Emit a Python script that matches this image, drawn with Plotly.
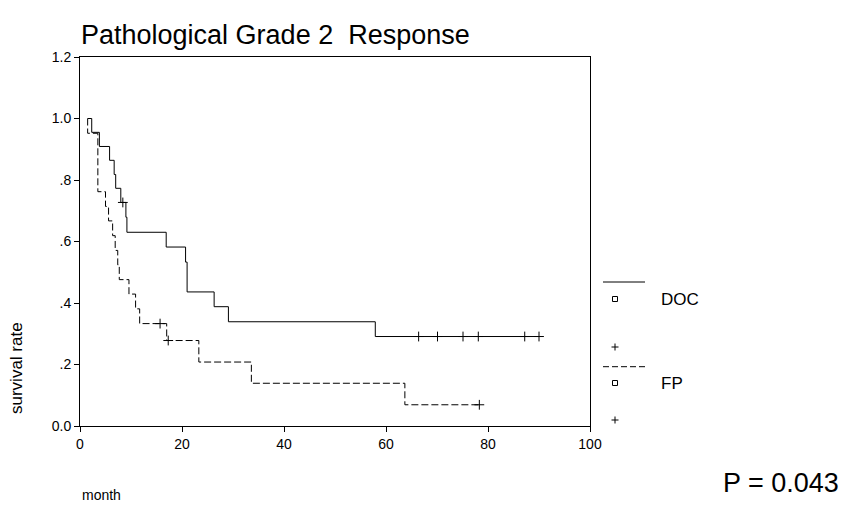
import plotly.graph_objects as go

# ---- data (Kaplan-Meier steps) ----
doc_t = [1.5, 2.3, 3.8, 5.8, 6.7, 7.0, 8.0, 9.0, 9.2, 16.9, 20.7, 21.0, 26.3, 29.1, 57.9, 90.0]
doc_s = [1.0, 0.955, 0.909, 0.864, 0.818, 0.773, 0.727, 0.679, 0.630, 0.582, 0.533, 0.436, 0.388, 0.339, 0.291, 0.291]
doc_cens = [8.4, 66.4, 70.1, 75.1, 78.1, 87.2, 90.0]

fp_t = [1.5, 1.5, 3.5, 5.0, 5.6, 6.4, 6.9, 7.4, 7.7, 9.6, 10.9, 11.7, 17.0, 23.3, 33.6, 63.7, 78.3]
fp_s = [1.0, 0.952, 0.762, 0.714, 0.667, 0.619, 0.571, 0.524, 0.476, 0.429, 0.381, 0.333, 0.278, 0.208, 0.139, 0.069, 0.069]
fp_cens = [15.7, 17.3, 78.3]

x_ticks = [0, 20, 40, 60, 80, 100]
y_ticks = [0.0, 0.2, 0.4, 0.6, 0.8, 1.0, 1.2]
y_ticktext = ["0.0", ".2", ".4", ".6", ".8", "1.0", "1.2"]
groups = ["DOC", "FP"]
p_text = "P = 0.043"


def surv_at(ts, ss, t):
    v = ss[0]
    for ti, si in zip(ts, ss):
        if ti <= t:
            v = si
    return v


FONT = "Liberation Sans, Arial, sans-serif"
fig = go.Figure()

fig.add_trace(go.Scatter(x=doc_t, y=doc_s, mode="lines", line=dict(color="black", width=1, shape="hv"),
                         showlegend=False, hoverinfo="skip"))
fig.add_trace(go.Scatter(x=fp_t, y=fp_s, mode="lines",
                         line=dict(color="black", width=1, shape="hv", dash="7px,3px"),
                         showlegend=False, hoverinfo="skip"))
fig.add_trace(go.Scatter(x=doc_cens, y=[surv_at(doc_t, doc_s, t) for t in doc_cens], mode="markers",
                         marker=dict(symbol="cross-thin", size=7, line=dict(color="black", width=1)),
                         showlegend=False, hoverinfo="skip"))
fig.add_trace(go.Scatter(x=fp_cens, y=[surv_at(fp_t, fp_s, t) for t in fp_cens], mode="markers",
                         marker=dict(symbol="cross-thin", size=7, line=dict(color="black", width=1)),
                         showlegend=False, hoverinfo="skip"))

OFF = 8  # page body margin offset
W, H = 857, 531
# plot area in screenshot pixels: x 80..590, y 57..426
L = 80 - OFF
T = 57 - OFF
R = W - (590 - OFF)
B = H - (426 - OFF)
PW, PH = W - L - R, H - T - B


def px(x):
    return (x - OFF - L) / PW


def py(y):
    return (H - B - (y - OFF)) / PH


shapes = []
annotations = []
# legend block
leg = [("solid", 282, 299, 347, groups[0]), ("dash", 366.7, 383, 420, groups[1])]
for dash, yl, ysq, yplus, name in leg:
    shapes.append(dict(type="line", xref="paper", yref="paper", x0=px(603), x1=px(645), y0=py(yl), y1=py(yl),
                       line=dict(color="black", width=1, dash="solid" if dash == "solid" else "6px,3px")))
    shapes.append(dict(type="rect", xref="paper", yref="paper", x0=px(612.5), x1=px(617.5),
                       y0=py(ysq + 2.5), y1=py(ysq - 2.5), line=dict(color="black", width=1)))
    shapes.append(dict(type="line", xref="paper", yref="paper", x0=px(611.5), x1=px(618.5), y0=py(yplus),
                       y1=py(yplus), line=dict(color="black", width=1)))
    shapes.append(dict(type="line", xref="paper", yref="paper", x0=px(615), x1=px(615), y0=py(yplus - 3.5),
                       y1=py(yplus + 3.5), line=dict(color="black", width=1)))
    annotations.append(dict(text=name, xref="paper", yref="paper", x=px(659), y=py(ysq), xanchor="left",
                            yanchor="middle", showarrow=False, font=dict(family=FONT, size=17, color="black")))

annotations.append(dict(text="Pathological Grade 2\u00a0\u00a0Response", xref="paper", yref="paper",
                        x=px(79), y=py(35), xanchor="left", yanchor="middle", showarrow=False,
                        font=dict(family=FONT, size=27, color="black")))
annotations.append(dict(text="survival rate", xref="paper", yref="paper", x=px(16), y=py(368), textangle=-90,
                        xanchor="center", yanchor="middle", showarrow=False,
                        font=dict(family=FONT, size=17, color="black")))
annotations.append(dict(text="month", xref="paper", yref="paper", x=px(80), y=py(495), xanchor="left",
                        yanchor="middle", showarrow=False, font=dict(family=FONT, size=14, color="black")))
annotations.append(dict(text=p_text, xref="paper", yref="paper", x=px(841), y=py(483), xanchor="right",
                        yanchor="middle", showarrow=False, font=dict(family=FONT, size=27, color="black")))

fig.update_layout(
    width=W, height=H, margin=dict(l=L, r=R, t=T, b=B),
    paper_bgcolor="white", plot_bgcolor="white",
    shapes=shapes, annotations=annotations, showlegend=False,
    font=dict(family=FONT, size=14, color="black"),
)
fig.update_xaxes(range=[0, 100], tickvals=x_ticks, ticks="outside", ticklen=5, tickcolor="black",
                 showline=True, linecolor="black", linewidth=1, mirror=True, showgrid=False, zeroline=False,
                 tickfont=dict(family=FONT, size=14, color="black"))
fig.update_yaxes(range=[0, 1.2], tickvals=y_ticks, ticktext=y_ticktext, ticks="outside", ticklen=5,
                 tickcolor="black", showline=True, linecolor="black", linewidth=1, mirror=True, showgrid=False,
                 zeroline=False, tickfont=dict(family=FONT, size=14, color="black"))

fig.write_html("out.html")
